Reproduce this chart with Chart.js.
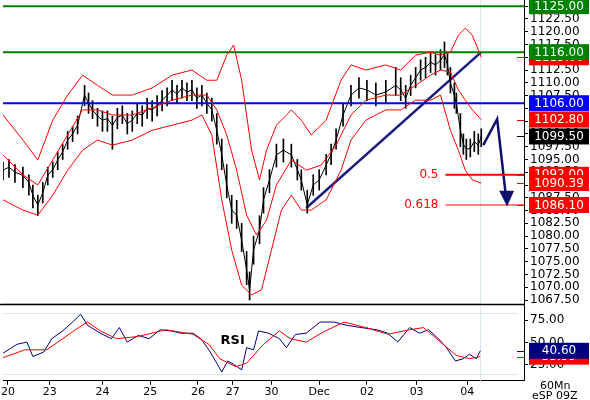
<!DOCTYPE html>
<html><head><meta charset="utf-8">
<script src="https://cdn.jsdelivr.net/npm/chart.js@4"></script>
<style>html,body{margin:0;padding:0;background:#fff}</style>
</head><body>
<canvas id="c" width="590" height="400"></canvas>
<script>
const dayPos=[5,47,100,148,196,231,270,318,366,416,467];
const dayLabels=['20','23','24','25','26','27','30','Dec','02','03','04'];
const priceX=[0,6,12,20,26,30,35,40,45,50,55,60,65,70,75,82,86,90,95,100,105,110,115,120,125,130,135,140,145,150,155,160,165,170,175,180,185,190,195,200,205,210,215,220,225,230,235,240,245,248,252,258,262,268,275,282,290,296,300,306,312,318,325,330,335,342,350,358,366,375,385,395,400,405,410,415,420,425,430,435,440,444,447,450,454,456,460,463,466,470,474,478,481];
const closes=[1092.9,1093.5,1092.5,1091.9,1090.5,1088.0,1086.1,1088.5,1091.9,1093.0,1094.9,1096.5,1098.8,1100.0,1101.7,1107.6,1106.0,1104.7,1103.5,1102.7,1103.0,1101.7,1103.2,1103.7,1102.0,1102.7,1104.0,1103.7,1105.0,1104.7,1105.5,1106.6,1107.5,1108.6,1107.8,1109.0,1108.2,1108.6,1107.0,1107.6,1106.0,1104.7,1100.7,1095.9,1090.0,1085.1,1084.1,1079.2,1073.4,1069.5,1077.3,1081.2,1087.1,1091.0,1095.9,1096.8,1095.9,1093.0,1091.0,1086.1,1090.0,1091.0,1093.9,1096.0,1098.8,1103.7,1107.6,1109.0,1108.6,1107.6,1108.2,1109.5,1108.6,1107.0,1109.5,1111.0,1112.5,1113.0,1114.0,1113.5,1114.4,1115.5,1113.5,1110.0,1107.5,1106.0,1100.7,1098.0,1097.0,1097.2,1098.5,1097.8,1099.5];
const highs=[1094.5,1095,1094,1093.5,1092,1090,1088,1090.5,1093.5,1094.5,1096.5,1098,1100.5,1101.5,1103.5,1109.5,1108,1106.5,1105,1104.5,1104.5,1103.5,1105,1105.5,1104,1104.5,1106,1105.5,1107,1106.5,1107.5,1108.5,1109,1110.5,1109.5,1110.5,1110,1110.5,1109,1109.5,1108,1107,1104,1099,1094,1088,1087,1082.5,1077,1073,1080,1084,1089.5,1093,1098,1099,1098,1095,1093,1089,1092,1093,1096,1098,1101,1106,1109.5,1111,1110.5,1110,1110.5,1113,1111,1109.5,1111.5,1113,1114.5,1115,1116,1115.5,1116.5,1118,1116,1113,1110,1108,1104,1100,1099,1099,1100.5,1100,1101];
const lows=[1091,1091.5,1090.5,1089.5,1088,1085.5,1084,1086.5,1090,1091.5,1093,1095,1097,1098.5,1100,1105.5,1104,1103,1101.5,1100.5,1100.5,1097,1101,1102,1100,1100.5,1102,1101.5,1103,1102.5,1103.5,1104.5,1105.5,1106.5,1106,1107,1106.5,1106.5,1105,1105.5,1104,1102.5,1098,1093,1087.5,1082.5,1081.5,1077,1070.5,1067.5,1074.5,1078.5,1084.5,1088.5,1093.5,1094.5,1093.5,1091,1089,1084.5,1088,1089,1092,1094,1097,1101.5,1105.5,1107,1106.5,1105.5,1106,1107.5,1106.5,1105,1107.5,1109,1110.5,1111,1112,1111.5,1112.5,1113,1111.5,1108,1105,1104,1097.5,1096,1095,1095.5,1096.5,1096,1097.5];
const upperX=[0,20,35,50,65,80,95,110,130,150,170,190,205,215,225,232,240,250,258,265,275,290,300,310,325,340,350,365,385,400,415,430,440,450,458,465,472,481];
const upperBand=[1103.7,1098.8,1094.9,1102.7,1107.6,1111.5,1109.5,1107.6,1107.6,1109.0,1111.5,1112.5,1110.5,1110.5,1115.4,1117.4,1110.5,1096.8,1091.0,1096.8,1101.7,1104.7,1102.7,1099.8,1102.7,1110.5,1113.5,1112.5,1113.5,1112.5,1115.4,1116.0,1115.4,1116.0,1119.3,1120.7,1119.3,1115.0];
const lowerX=[0,20,35,50,65,80,95,110,130,150,170,190,200,210,220,230,240,250,260,270,280,290,300,310,325,340,350,365,385,400,415,430,440,450,458,465,472,481];
const lowerBand=[1087.1,1085.1,1084.1,1088.0,1092.9,1096.8,1098.8,1097.8,1098.8,1100.7,1101.7,1102.7,1103.7,1099.8,1087.1,1077.3,1070.4,1068.5,1069.5,1077.3,1085.1,1088.0,1085.1,1085.1,1087.1,1092.9,1098.8,1102.7,1104.7,1104.7,1106.6,1106.6,1107.6,1100.7,1096.8,1092.9,1091.0,1090.39];
const midX=[0,20,35,50,65,80,95,110,130,150,170,190,205,215,225,235,245,255,265,275,290,305,320,335,350,365,385,400,415,430,440,450,458,465,472,481];
const midBand=[1095.9,1092.0,1090.0,1094.9,1099.8,1104.7,1104.7,1103.7,1103.7,1105.1,1106.6,1107.6,1107.6,1104.7,1099.8,1092.9,1084.1,1080.2,1083.1,1090.0,1094.9,1092.9,1093.9,1097.8,1103.7,1106.6,1107.6,1107.6,1109.5,1111.5,1112.5,1112.1,1108.6,1106.6,1104.7,1102.8];
const rsiX=[0,14,24,30,41,49,60,70,78,85,98,109,117,125,136,147,158,169,179,191,199,207,215,220,226,232,240,245,252,257,267,278,285,294,305,319,333,346,360,376,387,397,409,419,428,438,446,455,463,469,476,480];
const rsi=[37.9,47.9,50.4,34.2,39.2,54.2,62.9,72.9,81.7,69.2,60.4,54.2,66.7,50.4,57.9,54.2,64.2,62.9,60.4,60.4,54.2,41.7,26.7,16.7,29.2,25.4,19.2,44.2,41.7,62.9,60.4,54.2,44.2,58.9,60.4,72.9,72.9,69.2,66.7,64.2,60.4,50.4,66.7,60.4,64.2,54.2,44.2,29.2,31.7,36.7,31.7,40.6];
const rsiMaX=[0,22,44,60,76,85,98,114,136,164,191,207,218,234,245,262,278,289,305,322,343,365,387,409,423,436,456,469,480];
const rsiMa=[32.9,41.7,41.7,54.2,66.7,72.9,62.9,54.2,56.7,64.2,59.2,47.9,31.7,22.9,26.7,47.9,62.9,54.2,50.4,61.7,72.9,66.7,59.2,64.2,66.7,54.2,35.4,31.7,34.0];
const priceTicks=[1067.5,1070,1072.5,1075,1077.5,1080,1082.5,1085,1087.5,1090,1092.5,1095,1097.5,1100,1102.5,1105,1107.5,1110,1112.5,1115,1117.5,1120,1122.5,1125];
const rsiTicks=[25,50,75];
const levels={green1:1125,green2:1116,blue:1106,fib5:1092,fib618:1086.1};
const trendX=[305,481], trendY=[1085.5,1116];
const arrowX=[483,497,506], arrowY=[1097.8,1102.9,1087.5];
const arrowHeadX=[499,514,507], arrowHeadY=[1088.9,1088.9,1085.8];
const boxes=[
 {v:1115.0,t:'1115.00',c:'#ff0000',a:'y'},{v:1125,t:'1125.00',c:'#008000',a:'y'},{v:1116,t:'1116.00',c:'#008000',a:'y'},
 {v:1106,t:'1106.00',c:'#0000ff',a:'y'},{v:1102.8,t:'1102.80',c:'#ff0000',a:'y'},{v:1099.5,t:'1099.50',c:'#000000',a:'y'},
 {v:1092,t:'1092.00',c:'#ff0000',a:'y'},{v:1090.39,t:'1090.39',c:'#ff0000',a:'y'},{v:1086.1,t:'1086.10',c:'#ff0000',a:'y'},
 {v:34.0,t:'33.99',c:'#ff0000',a:'yr'},{v:40.6,t:'40.60',c:'#000080',a:'yr'}];

const pts=(xs,ys)=>xs.map((x,i)=>({x:x,y:ys[i]}));
const F='"DejaVu Sans", sans-serif';
const line=(data,color,w,axis)=>({type:'line',data,borderColor:color,borderWidth:w,pointRadius:0,fill:false,tension:0,yAxisID:axis||'y'});

const deco={id:'deco',
 beforeDatasetsDraw(ch){const c=ch.ctx,a=ch.chartArea,y=ch.scales.y,r=ch.scales.yr,x=ch.scales.x;
  c.save();c.strokeStyle='#d8e8f0';c.lineWidth=1;
  const gx=Math.round(x.getPixelForValue(480))+0.5;
  c.beginPath();c.moveTo(gx,a.top);c.lineTo(gx,a.bottom);c.stroke();
  [83,15].forEach(v=>{const py=Math.round(r.getPixelForValue(v))+0.5;c.beginPath();c.moveTo(a.left,py);c.lineTo(x.getPixelForValue(518),py);c.stroke();});
  const py=Math.round(y.getPixelForValue(1067.0))+0.5;c.beginPath();c.moveTo(a.left,py);c.lineTo(gx,py);c.stroke();
  c.restore();},
 afterDatasetsDraw(ch){const c=ch.ctx,a=ch.chartArea,y=ch.scales.y,r=ch.scales.yr,x=ch.scales.x;
  c.save();
  const sep=Math.round(y.bottom)+0.5;c.strokeStyle='#000';c.lineWidth=1.5;c.beginPath();c.moveTo(0,sep+1);c.lineTo(a.right,sep+1);c.stroke();
  c.fillStyle='#101070';c.beginPath();
  arrowHeadX.forEach((v,i)=>{const px=x.getPixelForValue(v),pyy=y.getPixelForValue(arrowHeadY[i]);i?c.lineTo(px,pyy):c.moveTo(px,pyy);});
  c.closePath();c.fill();
  c.fillStyle='#ff0000';c.font='12px '+F;c.textAlign='right';c.textBaseline='middle';
  c.fillText('0.5',x.getPixelForValue(438),y.getPixelForValue(levels.fib5));
  c.fillText('0.618',x.getPixelForValue(438),y.getPixelForValue(levels.fib618));
  c.fillStyle='#000';c.font='bold 13px '+F;c.textAlign='center';
  c.fillText('RSI',x.getPixelForValue(231),r.getPixelForValue(52));
  c.font='12px '+F;c.textAlign='center';
  boxes.forEach(b=>{const s=b.a==='y'?y:r;const py=s.getPixelForValue(b.v);
   c.strokeStyle=b.c;c.lineWidth=1;c.beginPath();c.moveTo(a.right-7,Math.round(py)+0.5);c.lineTo(a.right,Math.round(py)+0.5);c.stroke();
   c.fillStyle=b.c;c.fillRect(529,py-8,60,16);c.fillStyle='#fff';c.fillText(b.t,559,py+0.5);});
  c.fillStyle='#000';c.font='11px '+F;c.textAlign='left';
  c.fillText('60Mn',540,386);c.fillText('eSP 09Z',532,396);
  c.restore();}};

const fitY=s=>{s.width=66;s.paddingTop=0;s.paddingBottom=0;};
new Chart(document.getElementById('c'),{
 data:{datasets:[
  line(pts(upperX,upperBand),'#ff0000',1),
  line(pts(midX,midBand),'#ff0000',1),
  line(pts(lowerX,lowerBand),'#ff0000',1),
  line([{x:0,y:levels.green1},{x:524,y:levels.green1}],'#008000',2),
  line([{x:0,y:levels.green2},{x:524,y:levels.green2}],'#008000',2),
  line([{x:0,y:levels.blue},{x:524,y:levels.blue}],'#0000ff',2),
  line([{x:445,y:levels.fib5},{x:524,y:levels.fib5}],'#ff0000',2),
  line([{x:445,y:levels.fib618},{x:524,y:levels.fib618}],'#ff0000',1),
  {type:'bar',data:priceX.map((v,i)=>({x:v,y:[lows[i],highs[i]]})),backgroundColor:'#000',barThickness:1,yAxisID:'y'},
  line(pts(priceX,closes),'#000',1),
  line(pts(trendX,trendY),'#1c1c80',2.5),
  line(pts(arrowX,arrowY),'#101070',2.5),
  line(pts(rsiMaX,rsiMa),'#ff0000',1,'yr'),
  line(pts(rsiX,rsi),'#000080',1,'yr')
 ]},
 options:{responsive:false,animation:false,devicePixelRatio:1,
  layout:{padding:0},
  plugins:{legend:{display:false},tooltip:{enabled:false}},
  scales:{
   x:{type:'linear',position:'bottom',min:0,max:524,offset:false,
      afterBuildTicks:s=>{s.ticks=dayPos.map(v=>({value:v}));},
      ticks:{autoSkip:false,maxRotation:0,color:'#000',font:{family:F,size:11},padding:1,callback:(v,i)=>dayLabels[i]},
      grid:{drawOnChartArea:false,tickLength:4,color:'#000',offset:false},border:{color:'#000'}},
   y:{type:'linear',axis:'y',position:'right',stack:'s',stackWeight:3.9,stacked:false,min:1066.9,max:1126.2,
      afterBuildTicks:s=>{s.ticks=priceTicks.map(v=>({value:v}));},
      afterFit:fitY,
      ticks:{autoSkip:false,color:'#000',font:{family:F,size:12},padding:2,callback:v=>Number(v).toFixed(2)},
      grid:{drawOnChartArea:false,tickLength:4,color:'#000'},border:{color:'#000'}},
   yr:{type:'linear',axis:'y',position:'right',stack:'s',stackWeight:1,stacked:false,min:6.9,max:94.2,
      afterBuildTicks:s=>{s.ticks=rsiTicks.map(v=>({value:v}));},
      afterFit:fitY,
      ticks:{autoSkip:false,color:'#000',font:{family:F,size:12},padding:2,callback:v=>Number(v).toFixed(2)},
      grid:{drawOnChartArea:false,tickLength:4,color:'#000'},border:{color:'#000'}}
  }},
 plugins:[deco]});
</script>
</body></html>
